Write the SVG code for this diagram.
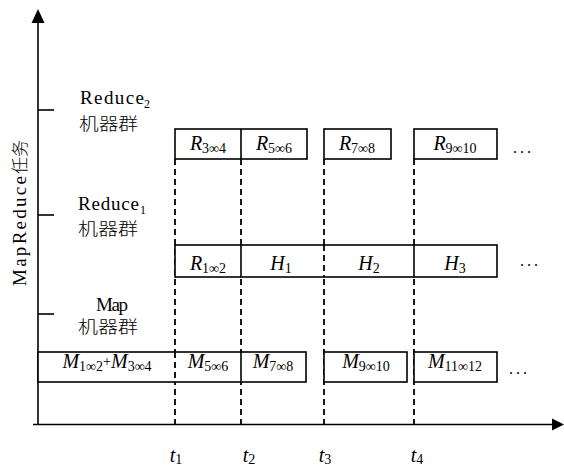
<svg xmlns="http://www.w3.org/2000/svg" width="564" height="468" viewBox="0 0 564 468">
<style>
.ax{stroke:#000;stroke-width:1.6;fill:none}
.bx{stroke:#000;stroke-width:1.6;fill:#fff}
.dl{stroke:#000;stroke-width:1.8;stroke-dasharray:6,4;fill:none}
.lat{font-family:"Liberation Serif","Times New Roman",serif;font-size:19px;fill:#000}
.sub{font-family:"Liberation Serif","Times New Roman",serif;font-size:12px;fill:#000}
.cjk{font-family:"Noto Sans CJK SC",sans-serif;font-size:17px;fill:#000;font-weight:300}
.m{font-family:"Liberation Serif","Times New Roman",serif;font-size:20px;fill:#000}
.i{font-style:italic}
.s{font-size:14px}
.dots{font-family:"Liberation Serif",serif;font-size:16px;letter-spacing:3px;fill:#000}
</style>
<g id="axes">
<line class="ax" x1="38" y1="20" x2="38" y2="425"/>
<polygon points="38,9 31.5,23 44.5,23" fill="#000"/>
<line class="ax" x1="33" y1="424.5" x2="553" y2="424.5"/>
<polygon points="564,424.5 552,418.5 552,430.5" fill="#000"/>
<line class="ax" x1="38" y1="110" x2="54" y2="110"/>
<line class="ax" x1="38" y1="215" x2="54" y2="215"/>
<line class="ax" x1="38" y1="314" x2="54" y2="314"/>
<g transform="translate(25.5,286) rotate(-90)">
<text class="lat" x="0" y="0" textLength="110" lengthAdjust="spacing">MapReduce</text>
<text class="cjk" x="112" y="0" textLength="34" lengthAdjust="spacingAndGlyphs">任务</text>
</g>
</g>
<g id="labels">
<text class="lat" x="80" y="104" textLength="64" lengthAdjust="spacing">Reduce</text>
<text class="sub" x="144" y="108">2</text>
<text class="cjk" x="79" y="130" textLength="59" lengthAdjust="spacingAndGlyphs">机器群</text>
<text class="lat" x="78" y="210" textLength="61" lengthAdjust="spacing">Reduce</text>
<text class="sub" x="140" y="214">1</text>
<text class="cjk" x="78" y="235" textLength="60" lengthAdjust="spacingAndGlyphs">机器群</text>
<text class="lat" x="96" y="311" textLength="32" lengthAdjust="spacing">Map</text>
<text class="cjk" x="78" y="333" textLength="60" lengthAdjust="spacingAndGlyphs">机器群</text>
</g>
<g id="connectors">
<line class="dl" x1="175" y1="159" x2="175" y2="425"/>
<line class="dl" x1="241" y1="159" x2="241" y2="425"/>
<line class="dl" x1="324" y1="159" x2="324" y2="425"/>
<line class="dl" x1="414" y1="159" x2="414" y2="425"/>
</g>
<g id="reduce2">
<rect class="bx" x="175" y="129" width="132" height="30"/>
<line class="ax" x1="241" y1="129" x2="241" y2="159"/>
<rect class="bx" x="324" y="129" width="67" height="30"/>
<rect class="bx" x="414" y="129" width="83" height="30"/>
<text class="m" x="208" y="150" text-anchor="middle"><tspan class="i">R</tspan><tspan class="s" dy="3">3∞4</tspan></text>
<text class="m" x="274" y="150" text-anchor="middle"><tspan class="i">R</tspan><tspan class="s" dy="3">5∞6</tspan></text>
<text class="m" x="357" y="150" text-anchor="middle"><tspan class="i">R</tspan><tspan class="s" dy="3">7∞8</tspan></text>
<text class="m" x="455" y="150" text-anchor="middle"><tspan class="i">R</tspan><tspan class="s" dy="3">9∞10</tspan></text>
<text class="dots" x="513" y="153">...</text>
</g>
<g id="reduce1">
<rect class="bx" x="175" y="245" width="322" height="32"/>
<line class="ax" x1="241" y1="245" x2="241" y2="277"/>
<line class="dl" x1="324" y1="245" x2="324" y2="277"/>
<line class="ax" x1="414" y1="245" x2="414" y2="277"/>
<text class="m" x="208" y="270" text-anchor="middle"><tspan class="i">R</tspan><tspan class="s" dy="3">1∞2</tspan></text>
<text class="m" x="281" y="270" text-anchor="middle"><tspan class="i">H</tspan><tspan class="s" dy="3">1</tspan></text>
<text class="m" x="369" y="270" text-anchor="middle"><tspan class="i">H</tspan><tspan class="s" dy="3">2</tspan></text>
<text class="m" x="455" y="270" text-anchor="middle"><tspan class="i">H</tspan><tspan class="s" dy="3">3</tspan></text>
<text class="dots" x="520" y="266">...</text>
</g>
<g id="map">
<rect class="bx" x="38" y="352" width="268" height="30"/>
<line class="dl" x1="175" y1="352" x2="175" y2="382"/>
<line class="ax" x1="241" y1="352" x2="241" y2="382"/>
<rect class="bx" x="324" y="352" width="83" height="30"/>
<rect class="bx" x="414" y="352" width="83" height="30"/>
<text class="m" x="107" y="368" text-anchor="middle"><tspan class="i">M</tspan><tspan class="s" dy="3">1∞2</tspan><tspan class="s" dy="-5">+</tspan><tspan class="i" dy="2">M</tspan><tspan class="s" dy="3">3∞4</tspan></text>
<text class="m" x="208" y="368" text-anchor="middle"><tspan class="i">M</tspan><tspan class="s" dy="3">5∞6</tspan></text>
<text class="m" x="273" y="368" text-anchor="middle"><tspan class="i">M</tspan><tspan class="s" dy="3">7∞8</tspan></text>
<text class="m" x="366" y="368" text-anchor="middle"><tspan class="i">M</tspan><tspan class="s" dy="3">9∞10</tspan></text>
<text class="m" x="455" y="368" text-anchor="middle"><tspan class="i">M</tspan><tspan class="s" dy="3">11∞12</tspan></text>
<text class="dots" x="509" y="374">...</text>
</g>
<g id="ticks">
<text class="m" x="176" y="462" text-anchor="middle"><tspan class="i">t</tspan><tspan class="s" dy="2">1</tspan></text>
<text class="m" x="249" y="462" text-anchor="middle"><tspan class="i">t</tspan><tspan class="s" dy="2">2</tspan></text>
<text class="m" x="325" y="462" text-anchor="middle"><tspan class="i">t</tspan><tspan class="s" dy="2">3</tspan></text>
<text class="m" x="417" y="462" text-anchor="middle"><tspan class="i">t</tspan><tspan class="s" dy="2">4</tspan></text>
</g>
</svg>
